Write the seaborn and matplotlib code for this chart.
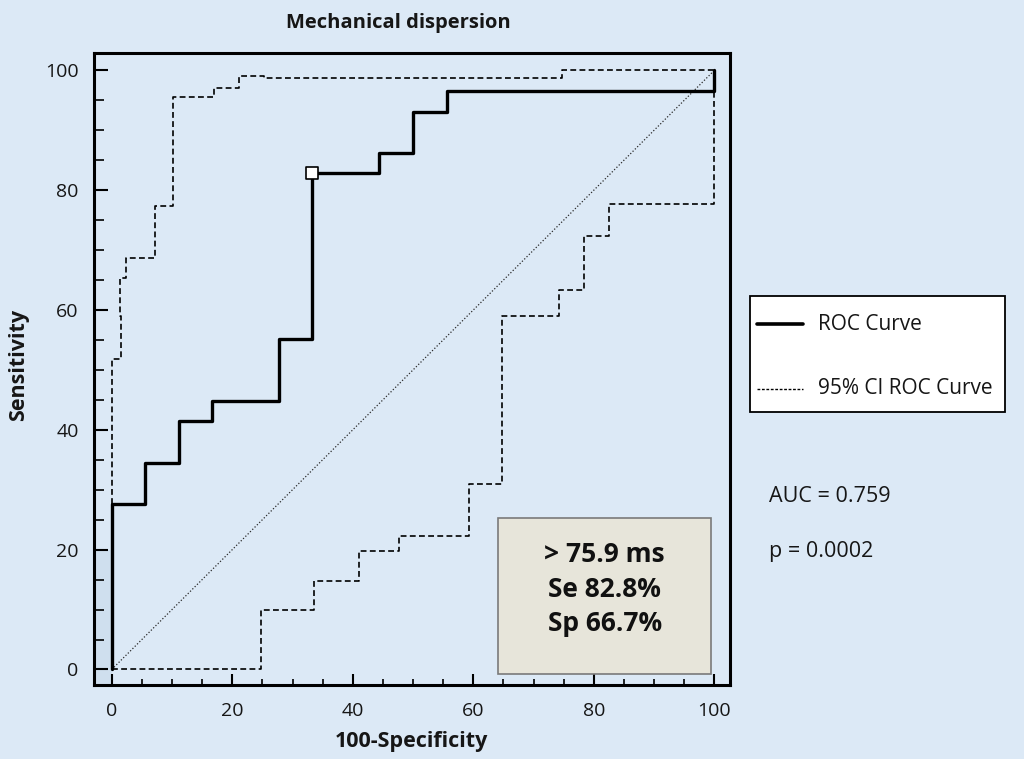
import matplotlib
matplotlib.use("Agg")
import matplotlib.pyplot as plt
import seaborn as sns
import pandas as pd
from matplotlib.lines import Line2D
from matplotlib.patches import Rectangle
from matplotlib.ticker import MultipleLocator

# ---- data (100-Specificity, Sensitivity) ----
roc_fpr = [0, 0, 5.56, 5.56, 11.1, 11.1, 16.7, 16.7, 27.8, 27.8, 33.3, 33.3,
           44.4, 44.4, 50.0, 50.0, 55.6, 55.6, 100, 100]
roc_tpr = [0, 27.6, 27.6, 34.5, 34.5, 41.4, 41.4, 44.8, 44.8, 55.2, 55.2, 82.8,
           82.8, 86.2, 86.2, 93.1, 93.1, 96.6, 96.6, 100]

ci_upper_fpr = [0, 0, 1.5, 1.5, 1.3, 1.3, 2.4, 2.4, 7.2, 7.2, 10.1, 10.1, 17.0, 17.0,
                21.2, 21.2, 25.2, 25.2, 74.8, 74.8, 100]
ci_upper_tpr = [0, 51.9, 51.9, 59.0, 59.0, 65.3, 65.3, 68.6, 68.6, 77.4, 77.4, 95.5,
                95.5, 97.0, 97.0, 99.1, 99.1, 98.8, 98.8, 100, 100]

ci_lower_fpr = [0, 24.7, 24.7, 33.6, 33.6, 41.1, 41.1, 47.7, 47.7, 59.3, 59.3, 64.7,
                64.7, 74.2, 74.2, 78.4, 78.4, 82.6, 82.6, 100, 100]
ci_lower_tpr = [0, 0, 9.9, 9.9, 14.7, 14.7, 19.7, 19.7, 22.3, 22.3, 31.0, 31.0,
                59.0, 59.0, 63.4, 63.4, 72.3, 72.3, 77.7, 77.7, 100]

diag = [0, 100]
cutoff_fpr = [33.3]
cutoff_tpr = [82.8]

title = "Mechanical dispersion"
xlabel = "100-Specificity"
ylabel = "Sensitivity"
legend_labels = ["ROC Curve", "95% CI ROC Curve"]
box_lines = ["> 75.9 ms", "Se 82.8%", "Sp 66.7%"]
auc_text = "AUC = 0.759"
p_text = "p = 0.0002"
ticks = [0, 20, 40, 60, 80, 100]

# ---- style ----
BG = "#dce9f6"
TXT = "#161616"
sns.set_theme(style="white")
plt.rcParams["font.family"] = ["Open Sans", "DejaVu Sans"]

W, H = 1024, 759
fig = plt.figure(figsize=(W / 100, H / 100), dpi=100, facecolor=BG)
ax = fig.add_axes([94 / W, 1 - 685 / H, (730 - 94) / W, (685 - 53) / H])
ax.set_facecolor(BG)

roc_df = pd.DataFrame({"x": roc_fpr, "y": roc_tpr})
up_df = pd.DataFrame({"x": ci_upper_fpr, "y": ci_upper_tpr})
lo_df = pd.DataFrame({"x": ci_lower_fpr, "y": ci_lower_tpr})
dg_df = pd.DataFrame({"x": diag, "y": diag})

# shaded strip left of x=0 below 20
ax.add_patch(Rectangle((-5, -5), 5, 25, facecolor="#cfdfee", edgecolor="none", zorder=0))

sns.lineplot(data=dg_df, x="x", y="y", ax=ax, sort=False, estimator=None,
             color="#2a2a2a", lw=0.9, linestyle=(0, (1, 1.6)))
sns.lineplot(data=up_df, x="x", y="y", ax=ax, sort=False, estimator=None,
             color="black", lw=1.2, linestyle=(0, (3.5, 2)))
sns.lineplot(data=lo_df, x="x", y="y", ax=ax, sort=False, estimator=None,
             color="black", lw=1.2, linestyle=(0, (3.5, 2)))
sns.lineplot(data=roc_df, x="x", y="y", ax=ax, sort=False, estimator=None,
             color="black", lw=2.4)
sns.scatterplot(x=cutoff_fpr, y=cutoff_tpr, ax=ax, marker="s", s=70,
                facecolor="white", edgecolor="black", linewidth=1.2, zorder=5)

ax.set_xlim(-2.94, 102.6)
ax.set_ylim(-2.59, 102.9)
ax.set_xticks(ticks)
ax.set_yticks(ticks)
ax.xaxis.set_minor_locator(MultipleLocator(5))
ax.yaxis.set_minor_locator(MultipleLocator(5))
ax.tick_params(which="both", direction="in", color="black", labelsize=14,
               bottom=True, left=True)
ax.tick_params(axis="x", which="major", length=8, width=1.5, pad=12)
ax.tick_params(axis="x", which="minor", length=4, width=1.2)
ax.tick_params(axis="y", which="major", length=10, width=1.5, pad=11)
ax.tick_params(axis="y", which="minor", length=7, width=1.2)
for t in ax.get_xticklabels() + ax.get_yticklabels():
    t.set_color(TXT)
for s in ax.spines.values():
    s.set_visible(True)
    s.set_color("black")
    s.set_linewidth(2.2)

ax.set_xlabel("")
ax.set_ylabel("")
fig.text(411 / W, 1 - 741 / H, xlabel, fontsize=15.5, fontweight="bold",
         ha="center", va="center", color=TXT)
fig.text(19 / W, 1 - 365 / H, ylabel, fontsize=15.5, fontweight="bold",
         ha="center", va="center", rotation=90, color=TXT)
fig.text(398 / W, 1 - 23 / H, title, fontsize=14.5, fontweight="bold",
         ha="center", va="center", color=TXT)

# annotation box
ax.add_patch(Rectangle((64.1, -0.7), 35.3, 26.0, facecolor="#e7e5da",
                       edgecolor="#7a7a7a", lw=1.2, zorder=4))
ax.text(81.8, 13.4, "\n".join(box_lines), ha="center", va="center",
        fontsize=19, fontweight="bold", linespacing=1.36, zorder=6, color="#111111")

# legend (drawn as figure-level artists)
fig.patches.append(Rectangle((750 / W, 1 - 412 / H), (1005 - 750) / W, (412 - 296) / H,
                             transform=fig.transFigure, facecolor="white",
                             edgecolor="black", lw=1.3, zorder=3))
fig.lines.append(Line2D([757 / W, 803 / W], [1 - 324 / H] * 2, transform=fig.transFigure,
                        color="black", lw=2.6, zorder=4))
fig.lines.append(Line2D([757 / W, 803 / W], [1 - 389 / H] * 2, transform=fig.transFigure,
                        color="black", lw=1.0, linestyle=(0, (2, 1.2)), zorder=4))
fig.text(818 / W, 1 - 324 / H, legend_labels[0], fontsize=15, va="center", ha="left",
         color=TXT, zorder=5)
fig.text(818 / W, 1 - 389 / H, legend_labels[1], fontsize=15, va="center", ha="left",
         color=TXT, zorder=5)

fig.text(769 / W, 1 - 497 / H, auc_text, fontsize=15.5, va="center", ha="left", color=TXT)
fig.text(769 / W, 1 - 551 / H, p_text, fontsize=15.5, va="center", ha="left", color=TXT)

fig.savefig("out.png", dpi=100, facecolor=BG)
